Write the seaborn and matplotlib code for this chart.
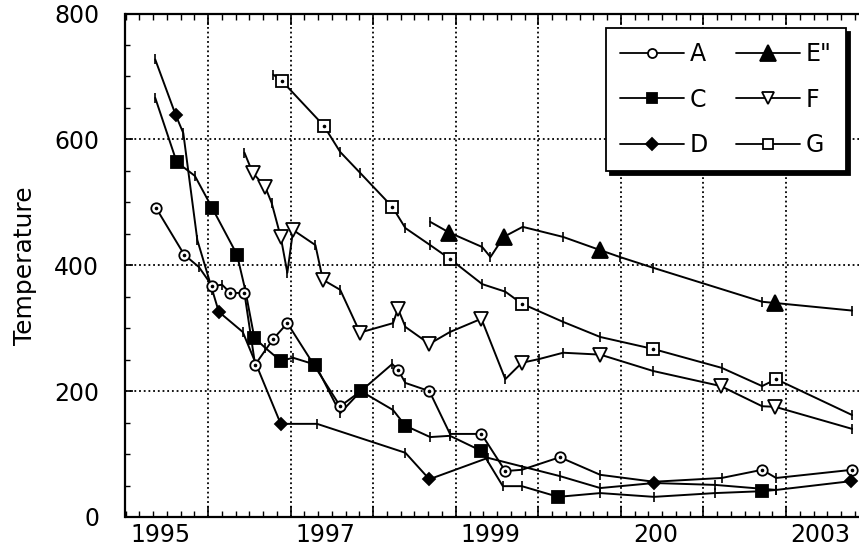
import numpy as np
import pandas as pd
import matplotlib
matplotlib.use("Agg")
import matplotlib.pyplot as plt
from matplotlib.lines import Line2D
from matplotlib.ticker import MultipleLocator
import seaborn as sns

# series values (year, temperature); *_sym = vertices drawn with the big symbol
a_year = [1995.37, 1995.71, 1995.89, 1996.05, 1996.17, 1996.27, 1996.44, 1996.57, 1996.79, 1996.96,
          1997.60, 1997.85, 1998.23, 1998.30, 1998.39, 1998.68, 1998.93, 1999.31, 1999.60, 1999.80,
          2000.26, 2000.75, 2001.40, 2002.22, 2002.71, 2002.88, 2003.80]
a_temp = [491, 417, 397, 367, 369, 356, 356, 242, 283, 308,
          176, 200, 243, 234, 213, 200, 132, 132, 73, 75,
          95, 67, 56, 62, 75, 62, 75]
a_sym = [0, 1, 3, 5, 6, 7, 8, 9, 10, 13, 15, 17, 18, 20, 24, 26]

c_year = [1995.36, 1995.62, 1995.84, 1996.05, 1996.35, 1996.45, 1996.56, 1996.69, 1996.88, 1997.03,
          1997.30, 1997.60, 1997.85, 1998.24, 1998.39, 1998.69, 1998.93, 1999.31, 1999.57, 1999.80,
          2000.24, 2000.75, 2001.40, 2002.14, 2002.71, 2002.88]
c_temp = [666, 564, 542, 491, 417, 361, 285, 269, 248, 253,
          242, 165, 200, 170, 145, 127, 129, 105, 49, 49,
          32, 38, 32, 38, 41, 43]
c_sym = [1, 3, 4, 6, 8, 10, 12, 14, 17, 20, 24]

d_year = [1995.36, 1995.61, 1995.70, 1995.87, 1996.05, 1996.13, 1996.42, 1996.88, 1997.32, 1998.39,
          1998.68, 1999.39, 2000.26, 2000.75, 2001.40, 2002.14, 2002.88, 2003.79]
d_temp = [727, 638, 610, 440, 361, 326, 294, 148, 148, 102,
          60, 94, 65, 46, 54, 51, 43, 57]
d_sym = [1, 5, 7, 10, 14, 17]

e_year = [1998.69, 1998.92, 1999.32, 1999.42, 1999.58, 1999.81, 2000.30, 2000.75, 2000.99, 2001.39,
          2002.71, 2002.87, 2003.80]
e_temp = [469, 452, 429, 413, 445, 461, 445, 424, 413, 396,
          342, 340, 328]
e_sym = [1, 4, 7, 11]

f_year = [1996.44, 1996.54, 1996.69, 1996.77, 1996.88, 1996.96, 1997.03, 1997.30, 1997.39, 1997.60,
          1997.84, 1998.24, 1998.30, 1998.39, 1998.68, 1998.93, 1999.31, 1999.60, 1999.80, 2000.01,
          2000.30, 2000.75, 2001.39, 2002.21, 2002.71, 2002.87, 2003.80]
f_temp = [579, 547, 525, 499, 445, 388, 456, 432, 377, 361,
          293, 308, 331, 302, 275, 294, 315, 219, 245, 251,
          261, 258, 232, 208, 176, 175, 140]
f_sym = [1, 2, 4, 6, 8, 10, 12, 14, 16, 18, 21, 23, 25]

g_year = [1996.79, 1996.90, 1997.40, 1997.60, 1997.84, 1998.23, 1998.39, 1998.69, 1998.93, 1999.32,
          1999.60, 1999.80, 2000.30, 2000.75, 2001.39, 2002.22, 2002.71, 2002.88, 2003.80]
g_temp = [703, 692, 622, 580, 547, 493, 459, 432, 410, 370,
          358, 339, 310, 286, 267, 237, 208, 219, 162]
g_sym = [1, 2, 5, 8, 11, 14, 17]

series_names = ["A", "C", "D", 'E"', "F", "G"]
x_label_pos = [1995.42, 1997.42, 1999.42, 2001.42, 2003.42]
x_labels = ["1995", "1997", "1999", "200", "2003"]
year_lines = [1996, 1997, 1998, 1999, 2000, 2001, 2002, 2003]
y_ticks = [0, 200, 400, 600, 800]

# marker styles for each series (main plot, legend)
styles = {
    "A":  dict(marker="o", mfc="white", ms=7.5, lms=6.5, dot=True),
    "C":  dict(marker="s", mfc="black", ms=8.5, lms=7.5, dot=False),
    "D":  dict(marker="D", mfc="black", ms=6.5, lms=6.5, dot=False),
    'E"': dict(marker="^", mfc="black", ms=12, lms=12, dot=False),
    "F":  dict(marker="v", mfc="white", ms=9.5, lms=8, dot=False),
    "G":  dict(marker="s", mfc="white", ms=9, lms=7.5, dot=True),
}

data = [(a_year, a_temp, a_sym), (c_year, c_temp, c_sym), (d_year, d_temp, d_sym),
        (e_year, e_temp, e_sym), (f_year, f_temp, f_sym), (g_year, g_temp, g_sym)]

sns.set_theme(style="ticks")
plt.rcParams['font.family'] = ['DejaVu Sans']

fig = plt.figure(figsize=(8.59, 5.46), dpi=100)
ax = fig.add_axes([125.5 / 859, 29 / 546, 733.5 / 859, 503.5 / 546])

for name, (yr, tp, sym) in zip(series_names, data):
    df = pd.DataFrame({"year": yr, "temp": tp})
    sns.lineplot(data=df, x="year", y="temp", ax=ax, color="black", lw=1.4,
                 marker="|", markersize=7, markeredgewidth=1.2, markeredgecolor="black",
                 sort=False, estimator=None, legend=False, zorder=3)
    st = styles[name]
    sub = df.iloc[sym]
    ax.plot(sub["year"], sub["temp"], ls="none", marker=st["marker"], ms=st["ms"],
            mfc=st["mfc"], mec="black", mew=1.3, zorder=4)
    if st["dot"]:
        ax.plot(sub["year"], sub["temp"], ls="none", marker="o", ms=1.6,
                color="black", zorder=5)

ax.set_xlim(1995, 1995 + 733.5 / 82.57)
ax.set_ylim(0, 800)

ax.set_xticks(year_lines)
ax.xaxis.set_minor_locator(MultipleLocator(1 / 6))
ax.set_yticks(y_ticks)
ax.yaxis.set_minor_locator(MultipleLocator(50))
ax.tick_params(axis="x", which="both", direction="in", top=True, bottom=True,
               labelbottom=False, color="black")
ax.tick_params(axis="x", which="major", length=8, width=1.2)
ax.tick_params(axis="x", which="minor", length=4.5, width=1.0)
ax.tick_params(axis="y", which="both", direction="in", left=True, right=False,
               color="black", labelsize=17, labelcolor="black", pad=19)
ax.tick_params(axis="y", which="major", length=6, width=1.2)
ax.tick_params(axis="y", which="minor", length=3.5, width=1.0)

sec = ax.secondary_xaxis("bottom")
sec.set_xticks(x_label_pos, labels=x_labels)
sec.tick_params(which="both", length=0, pad=4, labelsize=17, labelcolor="black")
sec.spines["bottom"].set_visible(False)

ax.grid(True, which="major", color="black", linestyle=(0, (1, 1.6)), linewidth=1.3)
ax.set_axisbelow(True)

for side in ["left", "top", "bottom"]:
    ax.spines[side].set_linewidth(1.6)
    ax.spines[side].set_color("black")
ax.spines["right"].set_visible(False)

ax.set_xlabel("")
ax.set_ylabel("Temperature", fontsize=18, color="black")
ax.yaxis.set_label_coords(-0.121, 0.5)

handles = []
for name in series_names:
    st = styles[name]
    handles.append(Line2D([], [], color="black", lw=1.3, marker=st["marker"], ms=st["lms"],
                          mfc=st["mfc"], mec="black", mew=1.3))
leg = ax.legend(handles, series_names, ncol=2, loc="upper right",
                bbox_to_anchor=(0.982, 0.971), borderaxespad=0, fontsize=17,
                handlelength=2.7, handletextpad=0.25, columnspacing=1.2,
                labelspacing=0.9, borderpad=0.6, fancybox=False, framealpha=1,
                numpoints=1, shadow={"ox": 3, "oy": -3, "shade": 1.0, "alpha": 1.0})
leg.get_frame().set_edgecolor("black")
leg.get_frame().set_linewidth(1.3)
for t in leg.get_texts():
    t.set_color("black")

fig.savefig("out.png", dpi=100, facecolor="white")
